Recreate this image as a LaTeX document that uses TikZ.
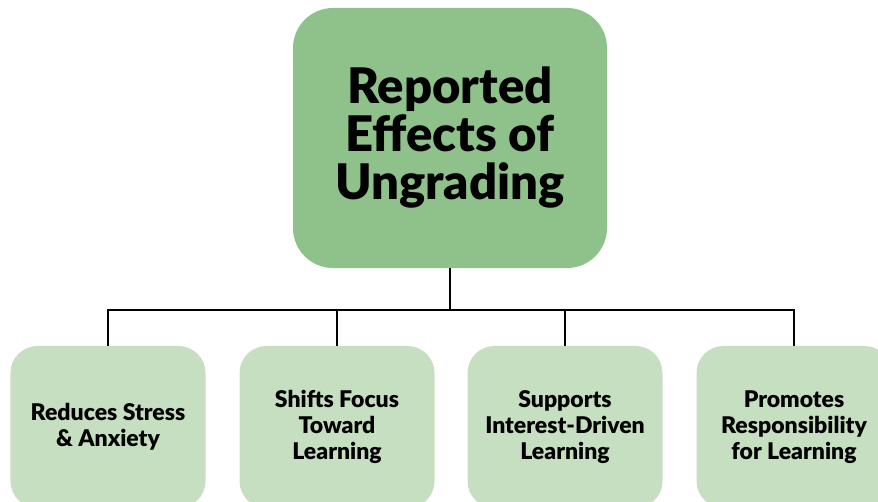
\documentclass[tikz,border=0pt]{standalone}
\usepackage{fontspec}
\setmainfont{Lato}
\newfontfamily\heavyfont{Lato Black}
\begin{document}
\begin{tikzpicture}[x=1bp,y=-1bp,
  rootbox/.style={fill=rootgreen, draw=none, rounded corners=40bp,
    minimum width=314bp, minimum height=260bp, align=center,
    font=\fontsize{49bp}{48bp}\selectfont\heavyfont},
  leafbox/.style={fill=leafgreen, draw=none, rounded corners=27bp,
    minimum width=195bp, minimum height=162bp, align=center,
    font=\fontsize{23bp}{26bp}\selectfont\heavyfont},
  link/.style={draw=black, line width=2bp}]
\definecolor{rootgreen}{RGB}{143,193,138}
\definecolor{leafgreen}{RGB}{197,223,192}
\useasboundingbox (0,0) rectangle (878,502);
\clip (0,0) rectangle (878,502);

% root node
\node[rootbox] (root) at (450,138) {Reported\\Effects of\\Ungrading};

% effect nodes
\node[leafbox] (b1) at (108,427) {Reduces Stress\\\& Anxiety};
\node[leafbox] (b2) at (337,427) {Shifts Focus\\Toward\\Learning};
\node[leafbox] (b3) at (565,427) {Supports\\Interest-Driven\\Learning};
\node[leafbox] (b4) at (794,427) {Promotes\\Responsibility\\for Learning};

% bus line joining the root to its children
\coordinate (bus) at (450,310);
\draw[link] (root.south) -- (bus);
\draw[link] (b1.north) -- (b1.north |- bus) -- (b4.north |- bus) -- (b4.north);
\draw[link] (b2.north) -- (b2.north |- bus);
\draw[link] (b3.north) -- (b3.north |- bus);
\end{tikzpicture}
\end{document}
